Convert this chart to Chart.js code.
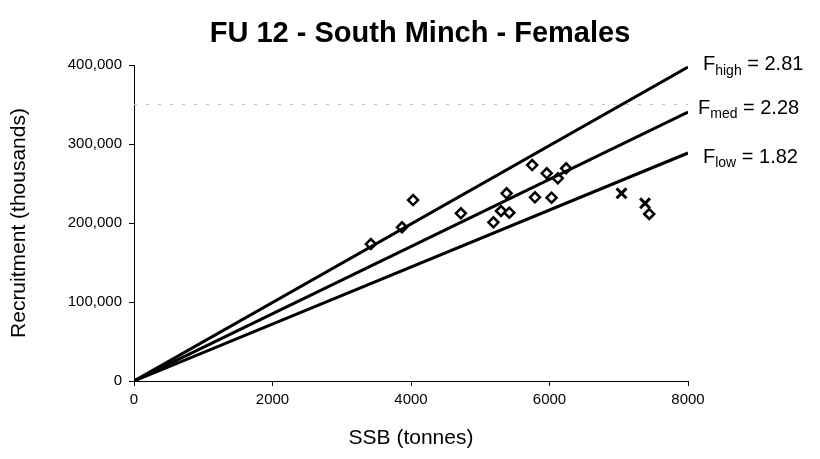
<!DOCTYPE html>
<html>
<head>
<meta charset="utf-8">
<script src="https://cdn.jsdelivr.net/npm/chart.js@4"></script>
<style>
  html, body { margin: 0; padding: 0; background: #fff; }
  #wrap { width: 820px; height: 459px; }
</style>
</head>
<body>
<div id="wrap"><canvas id="srChart" width="820" height="459"></canvas></div>
<script>
// observed stock-recruit pairs (diamonds)
const ssbObs = [3420, 3870, 4030, 4720, 5190, 5300, 5420, 5380, 5750, 5960, 6120, 6240, 5790, 6030, 7440];
const recObs = [173400, 194600, 229100, 212300, 200900, 215200, 213000, 237600, 273400, 262900, 256600, 269200, 232500, 232000, 211400];
// recent years (crosses)
const ssbRecent = [7040, 7380];
const recRecent = [237600, 224900];
// replacement lines through the origin
const fNames = ['high', 'med', 'low'];
const fValues = ['2.81', '2.28', '1.82'];
const lineSSB = [0, 8000];
const lineEndRec = [397500, 340500, 288600];
// faint scan artefact across the plot
const scanLineY = 350000;

const xTicks = [0, 2000, 4000, 6000, 8000];
const yTicks = [0, 100000, 200000, 300000, 400000];

const chartTitle = 'FU 12 - South Minch - Females';
const FONT = "'Liberation Sans', Arial, sans-serif";

function pairs(xs, ys) {
    return xs.map((x, i) => ({ x: x, y: ys[i] }));
}

const datasets = [];
lineEndRec.forEach(end => {
    datasets.push({
        type: 'line',
        data: pairs(lineSSB, [0, end]),
        borderColor: '#000',
        borderWidth: 3,
        pointRadius: 0,
        fill: false
    });
});
datasets.push({
    type: 'line',
    data: pairs(lineSSB, [scanLineY, scanLineY]),
    borderColor: '#c4c4c4',
    borderWidth: 1,
    borderDash: [3, 9],
    pointRadius: 0
});
datasets.push({
    type: 'scatter',
    data: pairs(ssbObs, recObs),
    pointStyle: 'rectRot',
    pointRadius: 5,
    borderColor: '#000',
    backgroundColor: '#fff',
    borderWidth: 2.5
});
datasets.push({
    type: 'scatter',
    data: pairs(ssbRecent, recRecent),
    pointStyle: 'crossRot',
    pointRadius: 7,
    borderColor: '#000',
    borderWidth: 3
});

// title drawn by hand so it can sit off the plot centre like the original
const titlePlugin = {
    id: 'handTitle',
    afterDraw(chart) {
        const ctx = chart.ctx;
        ctx.save();
        ctx.fillStyle = '#000';
        ctx.font = 'bold 29px ' + FONT;
        ctx.textAlign = 'center';
        ctx.textBaseline = 'middle';
        ctx.fillText(chartTitle, 420, 34);
        ctx.restore();
    }
};

// F labels with subscripts at the end of each line
const fLabelPlugin = {
    id: 'fLabels',
    afterDatasetsDraw(chart) {
        const ctx = chart.ctx;
        const dx = [15, 10, 15];
        const dy = [-2, -4, 4];
        ctx.save();
        ctx.fillStyle = '#000';
        ctx.textBaseline = 'middle';
        fNames.forEach((name, i) => {
            const pt = chart.getDatasetMeta(i).data[1];
            let x = pt.x + dx[i];
            const y = pt.y + dy[i];
            ctx.font = '20px ' + FONT;
            ctx.fillText('F', x, y);
            x += ctx.measureText('F').width;
            ctx.font = '14px ' + FONT;
            ctx.fillText(name, x, y + 6);
            x += ctx.measureText(name).width;
            ctx.font = '20px ' + FONT;
            ctx.fillText(' = ' + fValues[i], x, y);
        });
        ctx.restore();
    }
};

new Chart(document.getElementById('srChart'), {
    data: { datasets: datasets },
    plugins: [fLabelPlugin, titlePlugin],
    options: {
        responsive: false,
        animation: false,
        layout: { padding: { top: 65, right: 132, left: 0, bottom: 0 } },
        plugins: {
            legend: { display: false },
            tooltip: { enabled: false },
            title: { display: false }
        },
        scales: {
            x: {
                type: 'linear',
                min: 0,
                max: 8000,
                afterBuildTicks: s => { s.ticks = xTicks.map(v => ({ value: v })); },
                afterFit: s => { s.height = 78; },
                border: { color: '#000', width: 1 },
                grid: { drawOnChartArea: false, color: '#000', tickLength: 5 },
                ticks: {
                    color: '#000',
                    font: { family: FONT, size: 15 },
                    padding: 5,
                    callback: v => String(v)
                },
                title: {
                    display: true,
                    text: 'SSB (tonnes)',
                    color: '#000',
                    font: { family: FONT, size: 21 },
                    padding: { top: 0, bottom: 8 }
                }
            },
            y: {
                type: 'linear',
                min: 0,
                max: 400000,
                afterBuildTicks: s => { s.ticks = yTicks.map(v => ({ value: v })); },
                afterFit: s => { s.width = 134; },
                border: { color: '#000', width: 1 },
                grid: { drawOnChartArea: false, color: '#000', tickLength: 5 },
                ticks: {
                    color: '#000',
                    font: { family: FONT, size: 15 },
                    padding: 7,
                    callback: v => v.toLocaleString('en-US')
                },
                title: {
                    display: true,
                    text: 'Recruitment (thousands)',
                    color: '#000',
                    font: { family: FONT, size: 21 },
                    padding: { top: 7, bottom: 0 }
                }
            }
        }
    }
});
</script>
</body>
</html>
